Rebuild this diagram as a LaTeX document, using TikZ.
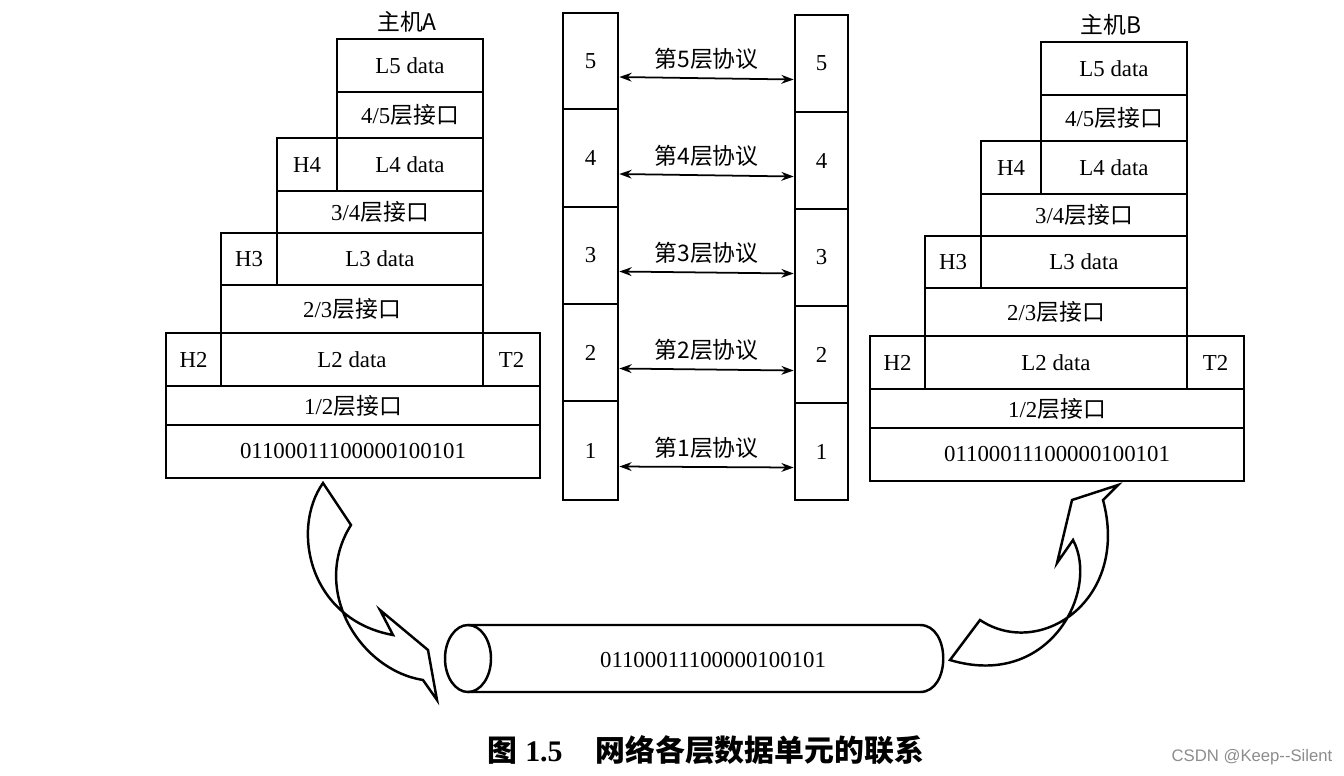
\documentclass[tikz,border=0pt]{standalone}
\usepackage{fontspec}
\setmainfont{Liberation Serif}
\newfontfamily\cjk{Noto Sans CJK SC}
\newfontfamily\wmfont{Liberation Sans}
\usetikzlibrary{
    arrows.meta,
    fit
}
\newcommand{\zh}[1]{{\cjk #1}}
\newcommand{\boxfont}{\fontsize{13}{15}\selectfont}

\begin{document}
\begin{tikzpicture}[
    x=0.02cm, y=-0.02cm,
    cell/.style={draw, line width=1.5pt, inner sep=0pt},
    layer/.style={cell},
    every label/.style={font=\boxfont, inner sep=0pt},
    proto/.style={{Stealth[length=7pt, width=5pt]}-{Stealth[length=7pt, width=5pt]}, line width=1pt},
    flow/.style={line width=1.4pt, line join=miter},
    tube/.style={line width=1.4pt},
]
    \useasboundingbox (0,0) rectangle (1344,775);

    % Host stacks
    \foreach \h/\dx/\dy in {A/0/0, B/704/3} {
        \begin{scope}[shift={(\dx,\dy)}]
            \node[font=\boxfont\cjk] (\h-name) at (407,22) {主机\h};
            \node[cell, fit={(337,39) (483,92)}, label=center:{L5 data}] (\h-l5) {};
            \node[cell, fit={(337,92) (483,138)}, label=center:{4/5\zh{层接口}}] (\h-i45) {};
            \node[cell, fit={(277,138) (337,191)}, label=center:{H4}] (\h-h4) {};
            \node[cell, fit={(337,138) (483,191)}, label=center:{L4 data}] (\h-l4) {};
            \node[cell, fit={(277,191) (483,233)}, label=center:{3/4\zh{层接口}}] (\h-i34) {};
            \node[cell, fit={(221,233) (277,285)}, label=center:{H3}] (\h-h3) {};
            \node[cell, fit={(277,233) (483,285)}, label=center:{L3 data}] (\h-l3) {};
            \node[cell, fit={(221,285) (483,333)}, label=center:{2/3\zh{层接口}}] (\h-i23) {};
            \node[cell, fit={(166,333) (221,386)}, label=center:{H2}] (\h-h2) {};
            \node[cell, fit={(221,333) (483,386)}, label=center:{L2 data}] (\h-l2) {};
            \node[cell, fit={(483,333) (540,386)}, label=center:{T2}] (\h-t2) {};
            \node[cell, fit={(166,386) (540,425)}, label=center:{1/2\zh{层接口}}] (\h-i12) {};
            \node[cell, fit={(166,425) (540,478)}, label=center:{01100011100000100101}] (\h-bits) {};
        \end{scope}
    }

    % Peer layers and protocols
    \foreach \n/\ta/\ba/\tb/\bb in {5/13/109/15/112, 4/109/207/112/209, 3/207/304/209/306, 2/304/401/306/403, 1/401/500/403/500} {
        \node[layer, fit={(563,\ta) (618,\ba)}, label=center:{\n}] (pl\n) {};
        \node[layer, fit={(795,\tb) (848,\bb)}, label=center:{\n}] (pr\n) {};
        \draw[proto] ([yshift=-0.32cm]pl\n.east) -- node[above=1pt, font=\boxfont\cjk] (tag\n) {第{\n}层协议} ([yshift=-0.32cm]pr\n.west);
    }

    % Transmission medium
    \draw[tube] (468,625) -- (920,625) .. controls (951,625) and (951,692) .. (920,692) -- (468,692);
    \draw[tube] (468,658.5) ellipse[x radius=0.46cm, y radius=0.67cm];
    \node[font=\boxfont] (wire) at (713,660) {01100011100000100101};

    % Curved arrows
    \draw[flow] (323,483) .. controls (290,530) and (310,620) .. (393,635) -- (380,610) -- (428,650) -- (437,700) -- (423,680) .. controls (360,670) and (310,590) .. (351,525) -- cycle;
    \draw[flow] (950,660) -- (980,620) .. controls (1040,660) and (1130,600) .. (1103,500) -- (1118,485) -- (1072,500) -- (1057,563) -- (1073,540) .. controls (1100,590) and (1050,690) .. (950,660) -- cycle;

    % Caption
    \node[font=\fontsize{17}{20}\selectfont\bfseries] (caption) at (706,750) {\zh{图}~1.5\hspace{1.1em}\zh{网络各层数据单元的联系}};
    \node[font=\fontsize{9.5}{11}\selectfont\wmfont, text=black!45] (wm) at (1252,757) {CSDN @Keep-{}-Silent};
\end{tikzpicture}
\end{document}
